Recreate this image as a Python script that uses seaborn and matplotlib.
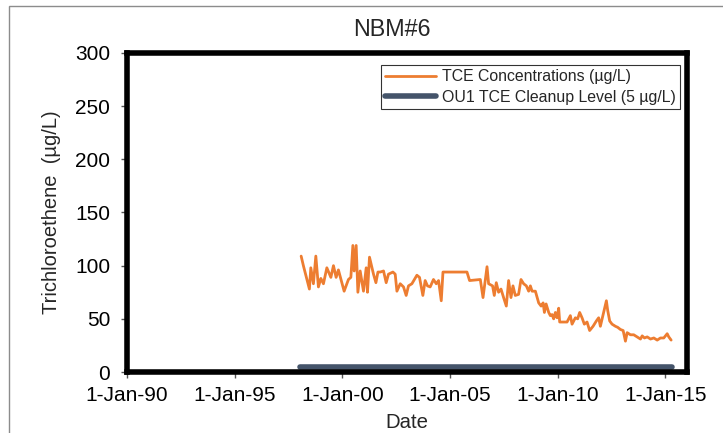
import matplotlib
matplotlib.use("Agg")
import matplotlib.pyplot as plt
import matplotlib.dates as mdates
from matplotlib.ticker import FuncFormatter, MultipleLocator
from matplotlib.patches import Rectangle
import seaborn as sns
import pandas as pd

# ---- data ----
tce_dates = [
    "1998-02-01", "1998-03-11", "1998-06-21", "1998-07-15", "1998-08-28", "1998-10-08",
    "1998-11-21", "1999-01-01", "1999-02-14", "1999-04-13", "1999-06-20", "1999-08-03",
    "1999-09-17", "1999-10-26", "2000-01-31", "2000-04-13", "2000-05-24", "2000-06-27",
    "2000-07-19", "2000-08-22", "2000-09-20", "2000-10-29", "2000-12-24", "2001-02-08",
    "2001-03-02", "2001-04-05", "2001-06-12", "2001-07-23", "2001-08-26", "2001-10-04",
    "2001-11-29", "2002-01-13", "2002-02-21", "2002-05-07", "2002-06-15", "2002-07-14",
    "2002-09-08", "2002-11-03", "2002-12-18", "2003-01-26", "2003-03-25", "2003-06-18",
    "2003-08-01", "2003-09-27", "2003-11-05", "2003-12-14", "2004-01-29", "2004-03-25",
    "2004-05-11", "2004-06-19", "2004-08-04", "2004-09-02", "2005-10-14", "2005-11-27",
    "2006-05-28", "2006-07-13", "2006-09-19", "2006-10-16", "2006-12-22", "2007-01-20",
    "2007-02-23", "2007-04-03", "2007-05-14", "2007-06-27", "2007-08-12", "2007-09-20",
    "2007-10-30", "2007-12-03", "2008-01-11", "2008-03-07", "2008-04-17", "2008-06-01",
    "2008-07-17", "2008-08-25", "2008-09-23", "2008-10-22", "2008-12-17", "2009-02-11",
    "2009-03-24", "2009-04-27", "2009-05-19", "2009-06-17", "2009-07-31", "2009-08-28",
    "2009-09-26", "2009-10-23", "2009-11-21", "2009-12-20", "2010-01-16", "2010-02-02",
    "2010-04-11", "2010-06-07", "2010-08-02", "2010-08-31", "2010-10-26", "2010-12-04",
    "2011-01-07", "2011-02-16", "2011-03-27", "2011-05-12", "2011-06-25", "2011-08-22",
    "2011-10-17", "2011-11-25", "2011-12-24", "2012-02-08", "2012-04-04", "2012-04-26",
    "2012-05-30", "2012-07-09", "2012-09-04", "2012-10-13", "2012-11-28", "2013-01-13",
    "2013-02-21", "2013-03-22", "2013-05-17", "2013-07-12", "2013-09-08", "2013-11-03",
    "2013-12-02", "2014-01-10", "2014-02-25", "2014-04-22", "2014-06-17", "2014-08-14",
    "2014-10-08", "2014-12-03", "2015-01-30", "2015-02-26", "2015-04-07",
]
tce_values = [
    109, 100, 78, 98, 83, 109,
    80, 88, 83, 98, 89, 100,
    89, 96, 76, 87, 89, 119,
    95, 119, 75, 95, 76, 98,
    75, 108, 92, 84, 94, 94,
    95, 84, 92, 94, 92, 76,
    83, 80, 72, 81, 83, 91,
    89, 72, 86, 81, 80, 87,
    83, 86, 67, 94, 94, 86,
    87, 70, 99, 83, 81, 72,
    84, 75, 78, 70, 62, 86,
    70, 81, 72, 73, 87, 83,
    81, 76, 81, 76, 76, 65,
    62, 65, 56, 64, 56, 53,
    54, 50, 56, 51, 60, 47,
    47, 47, 53, 45, 51, 50,
    56, 51, 45, 47, 39, 43,
    48, 51, 43, 54, 67, 58,
    48, 45, 43, 42, 40, 39,
    29, 37, 35, 35, 33, 31,
    34, 32, 33, 31, 32, 30,
    32, 32, 36, 33, 30,
]
cleanup_dates = ["1998-01-15", "2015-04-30"]
cleanup_values = [5, 5]

x_tick_dates = ["1990-01-01", "1995-01-01", "2000-01-01", "2005-01-01", "2010-01-01", "2015-01-01"]
x_limits = ["1990-01-01", "2016-01-01"]
y_limits = [0, 300]

title_text = "NBM#6"
x_label = "Date"
y_label = "Trichloroethene  (\u00b5g/L)"
tce_label = "TCE Concentrations (\u00b5g/L)"
cleanup_label = "OU1 TCE Cleanup Level (5 \u00b5g/L)"

orange = "#ED7D31"
slate = "#44546A"

tce_df = pd.DataFrame({"Date": pd.to_datetime(tce_dates), "Value": tce_values})
cl_df = pd.DataFrame({"Date": pd.to_datetime(cleanup_dates), "Value": cleanup_values})

# ---- style ----
sns.set_style("white")
plt.rcParams["font.family"] = ["Liberation Sans", "DejaVu Sans"]

fig = plt.figure(figsize=(7.23, 4.33), dpi=100)
ax = fig.add_axes([127 / 723, 1 - 372 / 433, (687 - 127) / 723, (372 - 53) / 433])

# outer chart frame (only top and left visible in the reference)
fig.patches.append(Rectangle((9 / 723, -0.2), 1.2, 1.2 - 6 / 433,
                             transform=fig.transFigure, fill=False,
                             edgecolor="#8c8c8c", linewidth=1.0, zorder=0))

sns.lineplot(data=tce_df, x="Date", y="Value", ax=ax, color=orange,
             linewidth=2.0, label=tce_label, estimator=None, sort=False)
sns.lineplot(data=cl_df, x="Date", y="Value", ax=ax, color=slate,
             linewidth=4.0, label=cleanup_label, estimator=None,
             solid_capstyle="round")

ax.set_xlim(pd.to_datetime(x_limits[0]), pd.to_datetime(x_limits[1]))
ax.set_ylim(*y_limits)
ax.set_xticks(pd.to_datetime(x_tick_dates))
ax.xaxis.set_major_formatter(FuncFormatter(
    lambda v, pos: (lambda d: f"{d.day}-{d:%b-%y}")(mdates.num2date(v))))
ax.yaxis.set_major_locator(MultipleLocator(50))

for sp in ax.spines.values():
    sp.set_visible(True)
    sp.set_color("black")
    sp.set_linewidth(4.0)

ax.tick_params(axis="both", which="major", direction="out", length=4, width=1,
               color="#555555", labelsize=15, labelcolor="black", pad=8,
               bottom=True, left=True)
ax.tick_params(axis="x", pad=6)

ax.set_xlabel(x_label, fontsize=14.7, labelpad=6)
ax.set_ylabel(y_label, fontsize=14.5, labelpad=10)

fig.text(392 / 723, 1 - 29 / 433, title_text, ha="center", va="center", fontsize=16.8)

leg = ax.legend(loc="upper right", bbox_to_anchor=(0.9875, 0.962), borderaxespad=0,
                fontsize=11.4, frameon=True, fancybox=False, edgecolor="black",
                handlelength=3.2, handletextpad=0.4, borderpad=0.25,
                labelspacing=0.35)
leg.get_frame().set_linewidth(0.8)

fig.savefig("out.png", dpi=100)
